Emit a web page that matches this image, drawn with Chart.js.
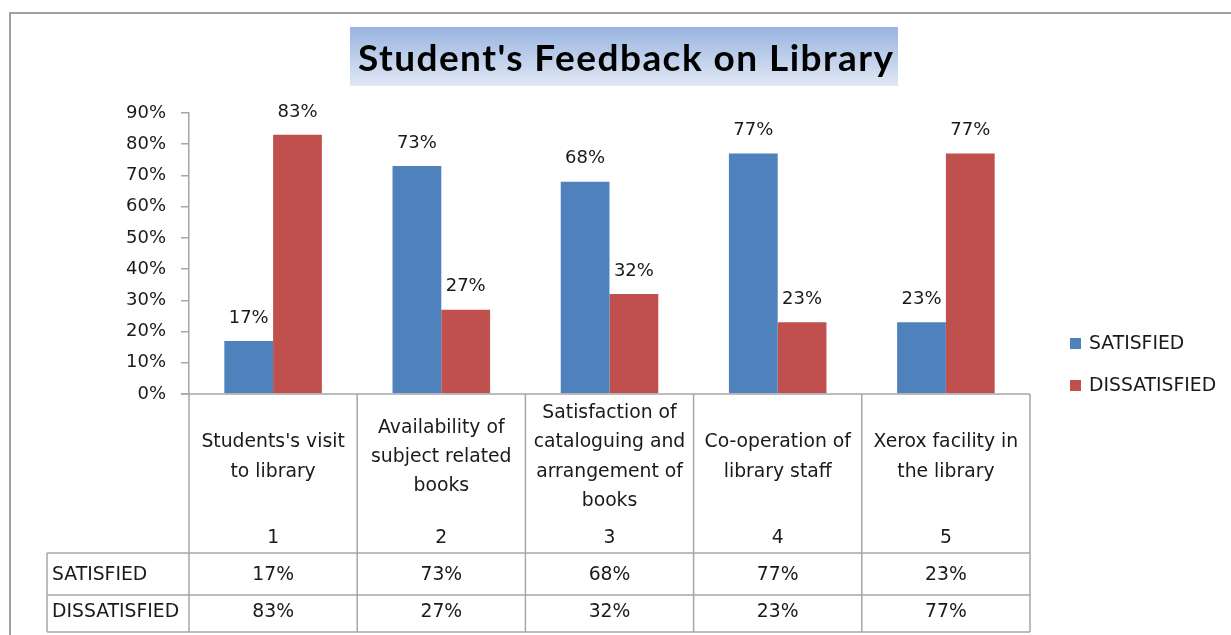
<!DOCTYPE html>
<html>
<head>
<meta charset="utf-8">
<title>Student's Feedback on Library</title>
<script src="https://cdn.jsdelivr.net/npm/chart.js@4.4.0/dist/chart.umd.min.js"></script>
<style>
  html, body { margin: 0; padding: 0; background: #fff; }
  #wrap { width: 1231px; height: 635px; }
</style>
</head>
<body>
<div id="wrap"><canvas id="report-chart" width="1231" height="635"></canvas></div>
<script>
const chartTitle = "Student's Feedback on Library";
const categoryNumbers = ['1', '2', '3', '4', '5'];
const categoryNames = [
  ["Students's visit", 'to library'],
  ['Availability of', 'subject related', 'books'],
  ['Satisfaction of', 'cataloguing and', 'arrangement of', 'books'],
  ['Co-operation of', 'library staff'],
  ['Xerox facility in', 'the library']
];
const seriesNames = ['SATISFIED', 'DISSATISFIED'];
const satisfied = [17, 73, 68, 77, 23];
const dissatisfied = [83, 27, 32, 23, 77];
const yTicks = [0, 10, 20, 30, 40, 50, 60, 70, 80, 90];

const BLUE = '#4F81BD';
const RED = '#C0504D';
const GRID = '#A6A6A6';
const TEXT = '#1a1a1a';
const FONT = '"DejaVu Sans", Verdana, sans-serif';

// title box, data labels, table under the axis and legend
const excelBits = {
  id: 'excelBits',
  beforeDraw(chart) {
    const c = chart.ctx;
    c.save();
    c.fillStyle = '#fff';
    c.fillRect(0, 0, chart.width, chart.height);
    // outer frame
    c.strokeStyle = '#A0A0A0';
    c.lineWidth = 2;
    c.beginPath();
    c.moveTo(10, chart.height);
    c.lineTo(10, 13);
    c.lineTo(chart.width, 13);
    c.stroke();
    // title box
    const g = c.createLinearGradient(0, 27, 0, 86);
    g.addColorStop(0, '#98B4E0');
    g.addColorStop(1, '#E1E8F4');
    c.fillStyle = g;
    c.fillRect(350, 27, 548, 59);
    c.font = 'bold 37px Lato, "Open Sans", sans-serif';
    const w = c.measureText(chartTitle).width;
    const gap = Math.max(0, (535 - w) / (chartTitle.length - 1));
    c.letterSpacing = gap.toFixed(2) + 'px';
    c.fillStyle = '#000';
    c.textAlign = 'left';
    c.textBaseline = 'alphabetic';
    c.fillText(chartTitle, 358, 71);
    c.letterSpacing = '0px';
    c.restore();
  },
  afterDraw(chart) {
    const c = chart.ctx;
    const x = chart.scales.x;
    const area = chart.chartArea;
    c.save();
    c.font = '18px ' + FONT;
    c.fillStyle = TEXT;
    c.textAlign = 'center';
    c.textBaseline = 'middle';
    chart.data.datasets.forEach((ds, i) => {
      chart.getDatasetMeta(i).data.forEach((bar, j) => {
        c.fillText(ds.data[j] + '%', bar.x, bar.y - 23);
      });
    });

    // table
    const top = area.bottom;
    const row1 = 553, row2 = 595, bottom = 632, left = 47;
    const n = categoryNumbers.length;
    const half = (x.getPixelForValue(1) - x.getPixelForValue(0)) / 2;
    c.strokeStyle = GRID;
    c.lineWidth = 1.5;
    c.beginPath();
    c.moveTo(area.left - 8, top); c.lineTo(area.right, top);
    for (let k = 0; k <= n; k++) {
      const px = k < n ? x.getPixelForValue(k) - half : x.getPixelForValue(n - 1) + half;
      c.moveTo(px, top); c.lineTo(px, bottom);
    }
    c.moveTo(left, row1); c.lineTo(area.right, row1);
    c.moveTo(left, row2); c.lineTo(area.right, row2);
    c.moveTo(left, bottom); c.lineTo(area.right, bottom);
    c.moveTo(left, row1); c.lineTo(left, bottom);
    c.stroke();

    c.font = '18.8px ' + FONT;
    const lh = 29.3;
    categoryNames.forEach((lines, k) => {
      const px = x.getPixelForValue(k);
      const y0 = 457 - (lines.length - 1) * lh / 2;
      lines.forEach((t, m) => c.fillText(t, px, y0 + m * lh));
      c.fillText(categoryNumbers[k], px, 538);
      c.fillText(satisfied[k] + '%', px, 575);
      c.fillText(dissatisfied[k] + '%', px, 612);
    });
    c.textAlign = 'left';
    c.fillText(seriesNames[0], 52, 575);
    c.fillText(seriesNames[1], 52, 612);

    // legend
    [BLUE, RED].forEach((col, k) => {
      const ly = 343 + k * 42;
      c.fillStyle = col;
      c.fillRect(1070, ly - 5, 11, 11);
      c.fillStyle = TEXT;
      c.fillText(seriesNames[k], 1089, ly + 1);
    });
    c.restore();
  }
};

const config = {
  type: 'bar',
  data: {
    labels: categoryNumbers,
    datasets: [
      { label: seriesNames[0], data: satisfied, backgroundColor: BLUE },
      { label: seriesNames[1], data: dissatisfied, backgroundColor: RED }
    ]
  },
  options: {
    responsive: false,
    animation: false,
    layout: { padding: { left: 0, top: 113, right: 201, bottom: 241 } },
    datasets: { bar: { categoryPercentage: 0.58, barPercentage: 1.0 } },
    plugins: {
      legend: { display: false },
      title: { display: false },
      tooltip: { enabled: false }
    },
    scales: {
      x: { display: false },
      y: {
        min: 0,
        max: 90,
        afterFit(scale) { scale.width = 189; },
        afterBuildTicks(scale) { scale.ticks = yTicks.map(v => ({ value: v })); },
        ticks: {
          padding: 15,
          color: TEXT,
          font: { family: FONT, size: 18 },
          callback: v => v + '%'
        },
        grid: { drawOnChartArea: false, drawTicks: true, tickLength: 8, color: GRID, lineWidth: 1.5 },
        border: { display: true, color: GRID, width: 1.5 }
      }
    }
  },
  plugins: [excelBits]
};

new Chart(document.getElementById('report-chart').getContext('2d'), config);
</script>
</body>
</html>
